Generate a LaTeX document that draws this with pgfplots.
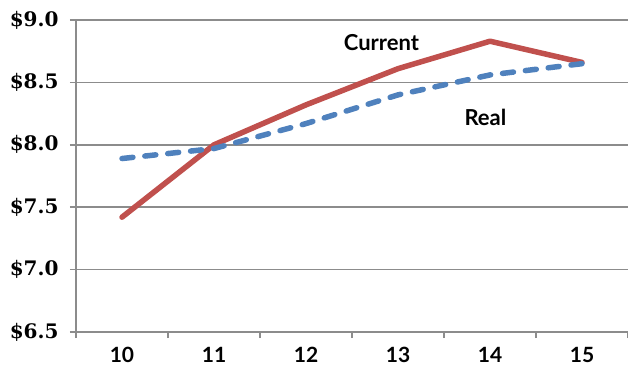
\documentclass[border=0pt]{standalone}
\usepackage{pgfplots}
\pgfplotsset{compat=1.18}
\usepackage{fontspec}
\setmainfont{Lato}
\newfontfamily\tickserif{DejaVu Serif}

\definecolor{curRed}{HTML}{C0504D}
\definecolor{realBlue}{HTML}{4F81BD}
\definecolor{axGray}{HTML}{8C8C8C}

\pgfplotstableread{
year current real
10 7.42 7.89
11 8.00 7.97
12 8.32 8.17
13 8.61 8.40
14 8.83 8.56
15 8.66 8.65
}\wagedata

\begin{document}
\begin{tikzpicture}[x=1pt,y=1pt]
\useasboundingbox (-76,-43) rectangle (552,332);
\begin{axis}[
  at={(0,0)}, anchor=south west,
  scale only axis,
  width=552pt, height=312pt,
  xmin=9.5, xmax=15.5,
  ymin=6.5, ymax=9.0,
  axis lines*=left,
  axis line style={axGray, line width=1.5pt},
  xtick={10,...,15},
  major x tick style={draw=none},
  minor xtick={9.5,10.5,...,15.5},
  minor x tick style={axGray, line width=1.5pt},
  minor tick length=6pt,
  ytick={6.5,7.0,...,9.0},
  yticklabels={\$6.5,\$7.0,\$7.5,\$8.0,\$8.5,\$9.0},
  major y tick style={axGray, line width=1.5pt},
  major tick length=6pt,
  tick align=outside,
  ymajorgrids,
  grid style={axGray, line width=1.5pt},
  xticklabel style={font=\fontsize{21}{23}\selectfont\bfseries, yshift=-6pt},
  yticklabel style={font=\tickserif\fontsize{20}{22}\selectfont\bfseries, xshift=-8pt},
  /pgf/number format/assume math mode=true,
  clip=false,
]
\addplot[curRed, line width=5.5pt, line cap=round, line join=round]
  table[x=year, y=current] {\wagedata};
\addplot[realBlue, line width=5.5pt, line cap=round, line join=round,
  dash pattern=on 11pt off 12pt]
  table[x=year, y=real] {\wagedata};
\node[font=\fontsize{22}{24}\selectfont\bfseries] at (axis cs:12.82,8.82) {Current};
\node[font=\fontsize{22}{24}\selectfont\bfseries] at (axis cs:13.95,8.22) {Real};
\end{axis}
\end{tikzpicture}
\end{document}
